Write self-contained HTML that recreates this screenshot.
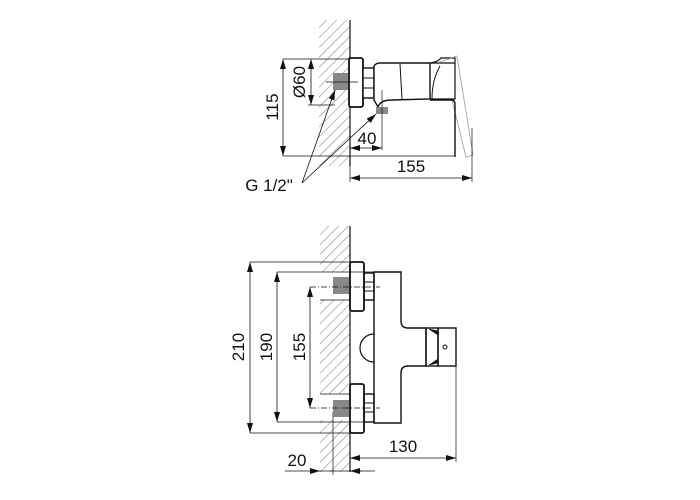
<!DOCTYPE html>
<html><head><meta charset="utf-8"><style>
html,body{margin:0;padding:0;background:#fff;}
svg{display:block;}
text{font-family:"Liberation Sans",Arial,sans-serif;font-size:17px;fill:#111;}
</style></head><body>
<svg width="700" height="500" viewBox="0 0 700 500" xmlns="http://www.w3.org/2000/svg">
<defs>
<pattern id="h" width="7" height="7" patternUnits="userSpaceOnUse" patternTransform="rotate(45)">
<line x1="0" y1="0" x2="0" y2="7" stroke="#555" stroke-width="0.8"/>
</pattern>
<marker id="a" viewBox="0 0 10 6" refX="10" refY="3" markerWidth="10" markerHeight="6" orient="auto-start-reverse" markerUnits="userSpaceOnUse">
<path d="M0,0 L10,3 L0,6 z" fill="#111"/></marker>
</defs>
<g stroke="#111" fill="none" stroke-width="1">
<!-- TOP VIEW -->
<rect x="319" y="20" width="31" height="146" fill="url(#h)" stroke="none"/>
<line x1="350" y1="20" x2="350" y2="166" stroke-width="1.2"/>
<rect x="349" y="58" width="14" height="49" rx="2" fill="#fff" stroke-width="1.8"/>
<rect x="363" y="68" width="11" height="30" fill="#fff" stroke-width="1.4"/>
<line x1="363" y1="78" x2="374" y2="78"/><line x1="363" y1="88" x2="374" y2="88"/>
<path d="M374,66 Q376,63 380,63 L430,63 L430,99 L392,100 Q380,100 378,107 L374,100 Z" fill="#fff" stroke-width="1.4"/>
<line x1="400" y1="64" x2="402" y2="99" stroke-width="1"/>
<path d="M430,63 L455,63 L455,99 L430,99 M430,63 Q438,62 441,58 L455,58 L455,63" stroke-width="1.2"/>
<path d="M432,99 Q432,80 440,66" />
<path d="M440,62 L457,56 L473,155 L466,157 L452,100" stroke="#999" stroke-width="0.8"/>
<path d="M430,100 L451,100 Q455,100 455,104 L455,157" stroke-width="1.4"/>
<rect x="333" y="73" width="15" height="17" fill="#888" stroke="none"/>
<rect x="376" y="107" width="12" height="7" fill="#888" stroke="none"/>
<line x1="326" y1="82" x2="358" y2="82" stroke-width="0.7"/>
<line x1="382" y1="90" x2="382" y2="150" stroke-width="0.7"/>
<!-- dims top -->
<line x1="283" y1="59" x2="350" y2="59" stroke-width="0.7"/>
<line x1="283" y1="156" x2="455" y2="156" stroke-width="0.7"/>
<line x1="283" y1="59" x2="283" y2="156" marker-start="url(#a)" marker-end="url(#a)" stroke-width="0.8"/>
<line x1="308" y1="105" x2="335" y2="105" stroke-width="0.7"/>
<line x1="311" y1="59" x2="311" y2="105" marker-start="url(#a)" marker-end="url(#a)" stroke-width="0.8"/>
<line x1="350" y1="148" x2="382" y2="148" marker-start="url(#a)" marker-end="url(#a)" stroke-width="0.8"/>
<line x1="472" y1="128" x2="472" y2="182" stroke-width="0.7"/>
<line x1="350" y1="166" x2="350" y2="182" stroke-width="0.7"/>
<line x1="350" y1="178" x2="472" y2="178" marker-start="url(#a)" marker-end="url(#a)" stroke-width="0.8"/>
<line x1="302" y1="183" x2="335" y2="90" marker-end="url(#a)" stroke-width="0.8"/>
<line x1="302" y1="183" x2="376" y2="114" marker-end="url(#a)" stroke-width="0.8"/>
<!-- BOTTOM VIEW -->
<rect x="320" y="226" width="30" height="46" fill="url(#h)" stroke="none"/>
<rect x="320" y="300" width="30" height="94" fill="url(#h)" stroke="none"/>
<rect x="320" y="420" width="30" height="52" fill="url(#h)" stroke="none"/>
<line x1="350" y1="226" x2="350" y2="472" stroke-width="1.2"/>
<line x1="320" y1="300" x2="350" y2="300" stroke-width="0.7"/>
<line x1="320" y1="394" x2="350" y2="394" stroke-width="0.7"/>
<line x1="333" y1="412" x2="333" y2="475" stroke-width="0.7"/>
<rect x="350" y="262" width="14" height="49" rx="2" fill="#fff" stroke-width="1.8"/>
<rect x="350" y="384" width="14" height="49" rx="2" fill="#fff" stroke-width="1.8"/>
<rect x="364" y="273" width="10" height="27" stroke-width="1.4"/>
<line x1="364" y1="282" x2="374" y2="282"/><line x1="364" y1="291" x2="374" y2="291"/>
<rect x="364" y="394" width="10" height="28" stroke-width="1.4"/>
<line x1="364" y1="403" x2="374" y2="403"/><line x1="364" y1="412" x2="374" y2="412"/>
<path d="M374,272 L401,272 L401,321 Q401,328 408,328 L426,328 L426,366 L408,366 Q401,366 401,373 L401,423 L374,423 Z" stroke-width="1.4"/>
<path d="M374,334 A14,14 0 0 0 374,362" stroke-width="1.2"/>
<rect x="426" y="328" width="12" height="38" stroke-width="1.4"/>
<rect x="438" y="328" width="18" height="38" stroke-width="1.4"/>
<path d="M429,329 L438,331 L438,335 Z M429,365 L438,363 L438,359 Z" fill="#111" stroke-width="0.6"/>
<circle cx="445" cy="347" r="2" stroke-width="1"/>
<rect x="333" y="277" width="16" height="17" fill="#888" stroke="none"/>
<rect x="333" y="400" width="16" height="17" fill="#888" stroke="none"/>
<line x1="310" y1="287" x2="380" y2="287" stroke-width="0.7" stroke-dasharray="6,2,1,2"/>
<line x1="310" y1="408" x2="380" y2="408" stroke-width="0.7" stroke-dasharray="6,2,1,2"/>
<!-- dims bottom -->
<line x1="250" y1="262" x2="350" y2="262" stroke-width="0.7"/>
<line x1="250" y1="433" x2="350" y2="433" stroke-width="0.7"/>
<line x1="250" y1="262" x2="250" y2="433" marker-start="url(#a)" marker-end="url(#a)" stroke-width="0.8"/>
<line x1="277" y1="272" x2="374" y2="272" stroke-width="0.7"/>
<line x1="277" y1="422" x2="374" y2="422" stroke-width="0.7"/>
<line x1="277" y1="272" x2="277" y2="422" marker-start="url(#a)" marker-end="url(#a)" stroke-width="0.8"/>
<line x1="310" y1="287" x2="310" y2="408" marker-start="url(#a)" marker-end="url(#a)" stroke-width="0.8"/>
<line x1="456" y1="366" x2="456" y2="462" stroke-width="0.7"/>
<line x1="350" y1="458" x2="456" y2="458" marker-start="url(#a)" marker-end="url(#a)" stroke-width="0.8"/>
<line x1="285" y1="471" x2="375" y2="471" stroke-width="0.7"/>
<line x1="310" y1="471" x2="320" y2="471" marker-end="url(#a)" stroke-width="0.8"/>
<line x1="362" y1="471" x2="350" y2="471" marker-end="url(#a)" stroke-width="0.8"/>
</g>
<text x="299" y="82" text-anchor="middle" transform="rotate(-90 299 82)" dy="6">Ø60</text>
<text x="272" y="107" text-anchor="middle" transform="rotate(-90 272 107)" dy="6">115</text>
<text x="367" y="144" text-anchor="middle">40</text>
<text x="411" y="172" text-anchor="middle">155</text>
<text x="269" y="191" text-anchor="middle">G 1/2"</text>
<text x="238" y="347" text-anchor="middle" transform="rotate(-90 238 347)" dy="6">210</text>
<text x="266" y="347" text-anchor="middle" transform="rotate(-90 266 347)" dy="6">190</text>
<text x="299" y="347" text-anchor="middle" transform="rotate(-90 299 347)" dy="6">155</text>
<text x="403" y="452" text-anchor="middle">130</text>
<text x="297" y="466" text-anchor="middle">20</text>
</svg>
</body></html>
